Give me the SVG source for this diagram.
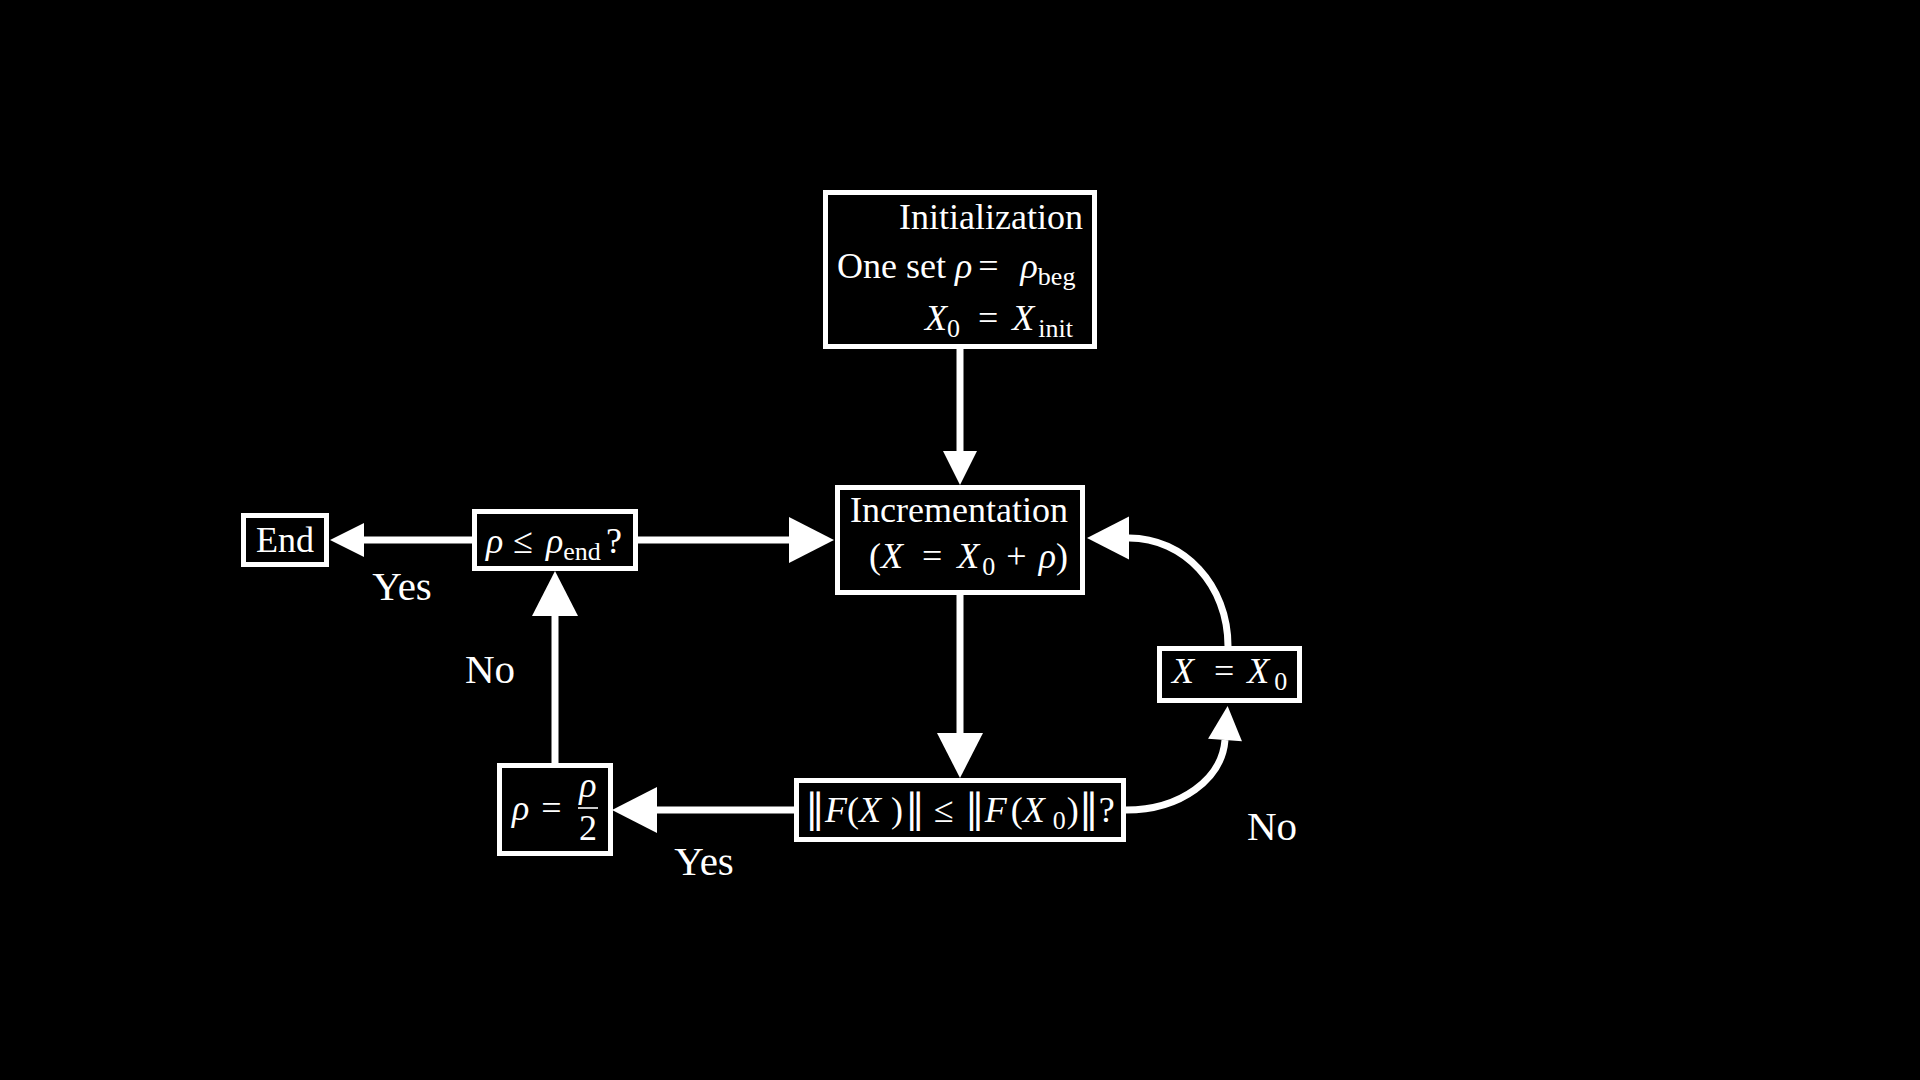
<svg xmlns="http://www.w3.org/2000/svg" width="1920" height="1080" viewBox="0 0 1920 1080">
<style>
  .box { fill: #000; stroke: #fff; stroke-width: 5; }
  .t { font-family: "Liberation Serif", "DejaVu Serif", serif; font-size: 36px; fill: #fff; }
  .lbl { font-family: "Liberation Serif", "DejaVu Serif", serif; font-size: 41px; fill: #fff; text-anchor: middle; }
  .m { font-style: italic; }
  .sub { font-size: 26px; }
  .nb { font-family: "DejaVu Serif", "Liberation Serif", serif; font-size: 40px; }
  .c { fill: none; stroke: #fff; stroke-width: 7; }
  .ah { fill: #fff; }
</style>
<defs>
  <marker id="al" markerUnits="userSpaceOnUse" markerWidth="46" markerHeight="46" refX="0" refY="23" orient="auto" overflow="visible">
    <path class="ah" d="M0,0 L45,23 L0,46 Z"/>
  </marker>
  <marker id="am" markerUnits="userSpaceOnUse" markerWidth="43" markerHeight="43" refX="0" refY="21.5" orient="auto" overflow="visible">
    <path class="ah" d="M0,0 L42,21.5 L0,43 Z"/>
  </marker>
  <marker id="as" markerUnits="userSpaceOnUse" markerWidth="34" markerHeight="34" refX="0" refY="17" orient="auto" overflow="visible">
    <path class="ah" d="M0,0 L34,17 L0,34 Z"/>
  </marker>
</defs>
<rect width="1920" height="1080" fill="#000"/>

<g id="connectors">
  <path class="c" d="M960,349 L960,451" marker-end="url(#as)"/>
  <path class="c" d="M960,595 L960,733" marker-end="url(#al)"/>
  <path class="c" d="M795,810 L657,810" marker-end="url(#al)"/>
  <path class="c" d="M555,763 L555,616" marker-end="url(#al)"/>
  <path class="c" d="M472,540 L364,540" marker-end="url(#as)"/>
  <path class="c" d="M638,540 L789,540" marker-end="url(#al)"/>
  <path class="c" d="M1126,810 C1181,810 1222,779 1225,740" marker-end="url(#as)"/>
  <path class="c" d="M1228,646 C1228,585 1184,538 1129,538" marker-end="url(#am)"/>
</g>

<g id="label-yes-end">
  <text class="lbl" x="402" y="600">Yes</text>
</g>
<g id="label-no-left">
  <text class="lbl" x="490" y="683">No</text>
</g>
<g id="label-yes-bottom">
  <text class="lbl" x="704" y="875">Yes</text>
</g>
<g id="label-no-right">
  <text class="lbl" x="1272" y="840">No</text>
</g>

<g id="init">
  <rect class="box" x="825.5" y="192.5" width="269" height="154"/>
  <text class="t" x="1083" y="229" text-anchor="end">Initialization</text>
  <text class="t" x="837" y="278">One set <tspan class="m">ρ</tspan><tspan dx="6">=</tspan><tspan class="m" dx="22">ρ</tspan><tspan class="sub" dy="7">beg</tspan></text>
  <text class="t" x="925" y="330"><tspan class="m">X</tspan><tspan class="sub" dy="7">0</tspan><tspan dx="18" dy="-7">=</tspan><tspan class="m" dx="14">X</tspan><tspan class="sub" dx="4" dy="7">init</tspan></text>
</g>

<g id="incr">
  <rect class="box" x="837.5" y="487.5" width="245" height="105"/>
  <text class="t" x="959" y="522" text-anchor="middle">Incrementation</text>
  <text class="t" x="869" y="568">(<tspan class="m">X</tspan><tspan dx="19">=</tspan><tspan class="m" dx="15">X</tspan><tspan class="sub" dx="3" dy="7">0</tspan><tspan dx="11" dy="-7">+</tspan><tspan class="m" dx="12">ρ</tspan>)</text>
</g>

<g id="end">
  <rect class="box" x="243.5" y="515.5" width="83" height="49"/>
  <text class="t" x="285" y="552" text-anchor="middle">End</text>
</g>

<g id="check-end">
  <rect class="box" x="474.5" y="511.5" width="161" height="57"/>
  <text class="t" x="486" y="553"><tspan class="m">ρ</tspan><tspan dx="10">≤</tspan><tspan class="m" dx="13">ρ</tspan><tspan class="sub" dy="7">end</tspan><tspan dx="5" dy="-7">?</tspan></text>
</g>

<g id="check-norm">
  <rect class="box" x="796.5" y="780.5" width="327" height="59"/>
  <text class="t" x="805" y="822"><tspan class="nb">‖</tspan><tspan class="m">F</tspan>(<tspan class="m">X</tspan><tspan dx="10">)</tspan><tspan class="nb" dx="2">‖</tspan><tspan dx="9">≤</tspan><tspan class="nb" dx="11">‖</tspan><tspan class="m">F</tspan><tspan dx="4">(</tspan><tspan class="m">X</tspan><tspan class="sub" dx="8" dy="7">0</tspan><tspan dx="1" dy="-7">)</tspan><tspan class="nb">‖</tspan>?</text>
</g>

<g id="halve">
  <rect class="box" x="499.5" y="765.5" width="111" height="88"/>
  <text class="t m" x="512" y="820">ρ</text>
  <text class="t" x="551.5" y="820" text-anchor="middle">=</text>
  <text class="t m" x="588" y="797" text-anchor="middle">ρ</text>
  <line x1="578" y1="808" x2="598" y2="808" stroke="#fff" stroke-width="1.6"/>
  <text class="t" x="588" y="840" text-anchor="middle">2</text>
</g>

<g id="reset">
  <rect class="box" x="1159.5" y="648.5" width="140" height="52"/>
  <text class="t" x="1172" y="683"><tspan class="m">X</tspan><tspan dx="20">=</tspan><tspan class="m" dx="13">X</tspan><tspan class="sub" dx="5" dy="7">0</tspan></text>
</g>
</svg>
